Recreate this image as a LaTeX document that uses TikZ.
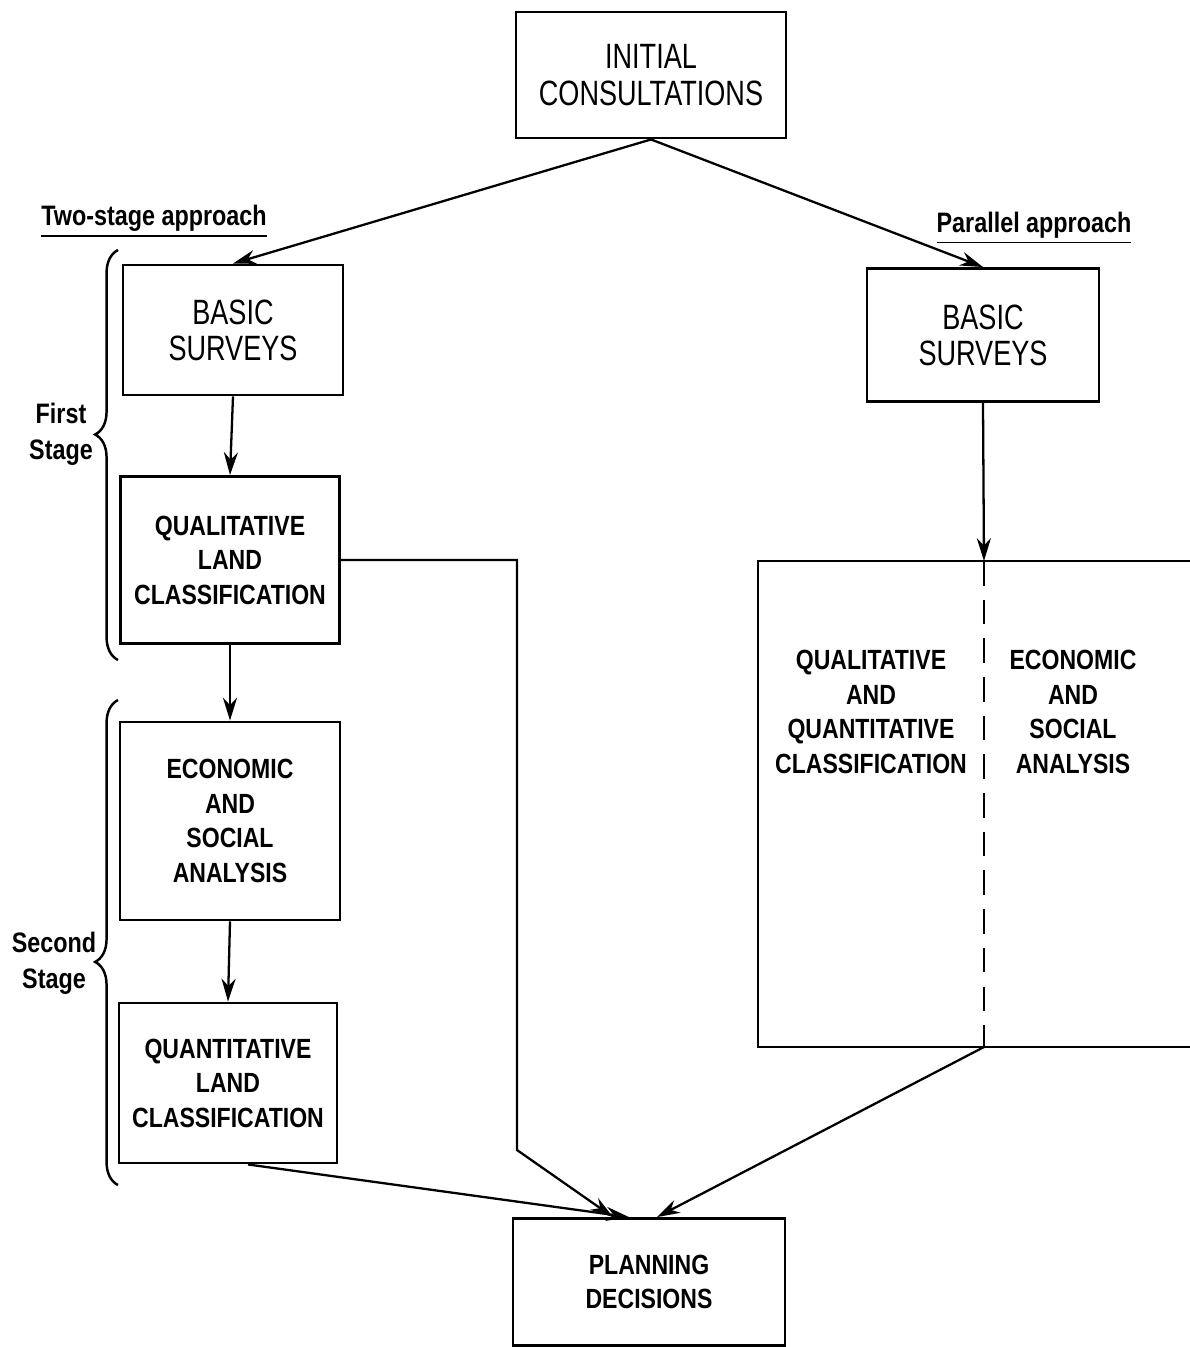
\documentclass[tikz,border=0pt]{standalone}
\usepackage{fontspec}
\setmainfont{Liberation Sans}
\newfontfamily\boxfont[FakeStretch=0.77]{Liberation Sans}
\newfontfamily\boldfont[FakeStretch=0.83]{Liberation Sans}
\usetikzlibrary{arrows.meta,positioning,decorations.pathreplacing}

\begin{document}
\begin{tikzpicture}[x=0.01cm,y=-0.01cm,
    plainbox/.style={draw, line width=0.8pt, align=center, inner sep=0pt,
        font={\boxfont\fontsize{10}{10.3}\selectfont}},
    boldbox/.style={draw, line width=0.8pt, align=center, inner sep=0pt,
        font={\boldfont\bfseries\fontsize{7.9}{9.8}\selectfont}},
    boldtext/.style={align=center, inner sep=0pt,
        font={\boldfont\bfseries\fontsize{7.9}{9.8}\selectfont}},
    label/.style={align=center, inner sep=0pt,
        font={\boldfont\bfseries\fontsize{8}{10.2}\selectfont}},
    flow/.style={line width=0.65pt, -{Stealth[length=6.5pt,width=4pt]}},
    stagebrace/.style={line width=0.7pt, decorate,
        decoration={brace, amplitude=6.5pt}}]
    \useasboundingbox (0,0) rectangle (1190,1347);

    % Top of the chart
    \node[plainbox, minimum width=2.70cm, minimum height=1.26cm] (init) at (651,75)
        {INITIAL\\CONSULTATIONS};

    % Two-stage approach (left column)
    \node[label, anchor=base] (twostage) at (154,225) {\underline{Two-stage approach}};
    \node[plainbox, minimum width=2.20cm, minimum height=1.30cm] (lbasic) at (233,330)
        {BASIC\\SURVEYS};
    \node[boldbox, minimum width=2.19cm, minimum height=1.67cm] (lqual) at (230,560)
        {QUALITATIVE\\LAND\\CLASSIFICATION};
    \node[boldbox, minimum width=2.20cm, minimum height=1.98cm] (lecon) at (230,821)
        {ECONOMIC\\AND\\SOCIAL\\ANALYSIS};
    \node[boldbox, minimum width=2.18cm, minimum height=1.60cm] (lquant) at (228,1083)
        {QUANTITATIVE\\LAND\\CLASSIFICATION};

    % Stage braces
    \draw[stagebrace, decoration={aspect=0.55}] (118,660) -- (118,250);
    \node[label] (first) at (61,434) {First\\Stage};
    \draw[stagebrace, decoration={aspect=0.46}] (118,1185) -- (118,700);
    \node[label] (second) at (54,963) {Second\\Stage};

    % Parallel approach (right column)
    \node[label, anchor=base] (parallel) at (1034,232) {\underline{Parallel approach}};
    \node[plainbox, minimum width=2.32cm, minimum height=1.33cm] (rbasic) at (983,335)
        {BASIC\\SURVEYS};

    % Open box, split by a dashed line
    \coordinate (rtop) at (984,561);
    \coordinate (rbot) at (984,1047);
    \draw[line width=0.8pt] (1190,561) -- (758,561) -- (758,1047) -- (1190,1047);
    \draw[line width=0.7pt, dash pattern=on 7pt off 4pt] (rtop) -- (rbot);
    \node[boldtext] (rqual) at (871,712)
        {QUALITATIVE\\AND\\QUANTITATIVE\\CLASSIFICATION};
    \node[boldtext] (recon) at (1073,712)
        {ECONOMIC\\AND\\SOCIAL\\ANALYSIS};

    % Bottom of the chart
    \node[boldbox, minimum width=2.72cm, minimum height=1.27cm] (plan) at (649,1282)
        {PLANNING\\DECISIONS};

    % Arrows
    \draw[flow] (init.south) -- (lbasic.north);
    \draw[flow] (init.south) -- (rbasic.north);
    \draw[flow] (lbasic.south) -- (lqual.north);
    \draw[flow] (lqual.south) -- (lecon.north);
    \draw[flow] (lecon.south) -- (lquant.north);
    \draw[flow] (lqual.east) -- (517,560) -- (517,1150) -- ([xshift=-0.36cm]plan.north);
    \draw[flow] ([xshift=0.2cm]lquant.south) -- ([xshift=-0.2cm]plan.north);
    \draw[flow] (rbasic.south) -- (rtop);
    \draw[flow] (rbot) -- ([xshift=0.08cm]plan.north);

\end{tikzpicture}
\end{document}
